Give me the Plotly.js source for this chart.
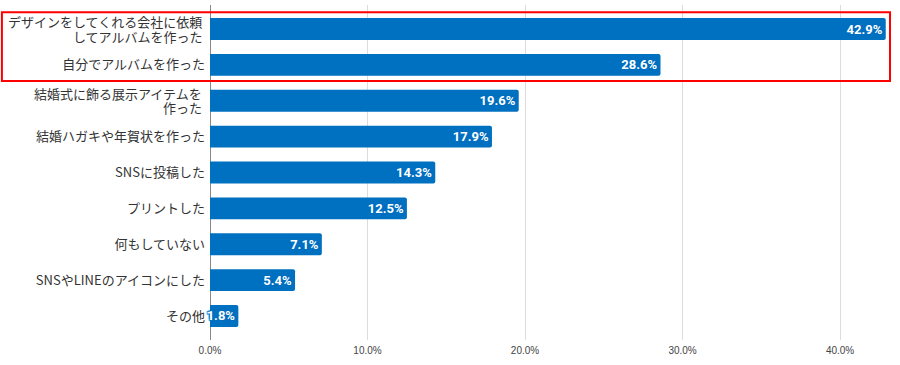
<!DOCTYPE html>
<html><head><meta charset="utf-8">
<script src="https://cdn.plot.ly/plotly-3.0.1.min.js"></script>
<style>html,body{margin:0;padding:0;background:#fff}#chart{width:900px;height:365px}</style>
</head><body><div id="chart"></div>
<script>
// Each category is a list of label lines (multi-line labels are drawn line by line)
const categoryLines = [
  ["デザインをしてくれる会社に依頼", "してアルバムを作った"],
  ["自分でアルバムを作った"],
  ["結婚式に飾る展示アイテムを", "作った"],
  ["結婚ハガキや年賀状を作った"],
  ["SNSに投稿した"],
  ["プリントした"],
  ["何もしていない"],
  ["SNSやLINEのアイコンにした"],
  ["その他"]
];
const categories = categoryLines.map(l => l.join(''));
const values = [42.9, 28.6, 19.6, 17.9, 14.3, 12.5, 7.1, 5.4, 1.8];
const xTicks = [0, 10, 20, 30, 40];
const xTickLabels = ["0.0%", "10.0%", "20.0%", "30.0%", "40.0%"];

const labelFont = {family: '"Noto Sans CJK JP", sans-serif', size: 13, color: '#333'};

const trace = {
  type: 'bar', orientation: 'h',
  x: values, y: categories,
  marker: {color: '#0070C0', cornerradius: 2},
  text: values.map(v => v.toFixed(1) + '%'),
  textposition: 'inside', insidetextanchor: 'end', constraintext: 'none',
  textfont: {family: 'Roboto, Arial, sans-serif', size: 13, color: '#fff', weight: 'bold',
             shadow: '1px 1px 1px #0070C0, -1px -1px 1px #0070C0, 1px -1px 1px #0070C0, -1px 1px 1px #0070C0'},
  hoverinfo: 'none', cliponaxis: false
};

// single-line labels as tick text; multi-line labels as per-line annotations
const tickText = categoryLines.map(l => l.length === 1 ? l[0] : '');
const annotations = [];
categoryLines.forEach((lines, i) => {
  if (lines.length > 1) {
    lines.forEach((t, k) => {
      annotations.push({
        xref: 'paper', yref: 'y', x: -0.0103, y: i + (k - (lines.length - 1) / 2) * 0.4,
        text: t, showarrow: false, xanchor: 'right', yanchor: 'middle',
        font: labelFont, borderpad: 0
      });
    });
  }
});

const layout = {
  width: 900, height: 365,
  margin: {l: 210, r: 10, t: 5, b: 25},
  paper_bgcolor: '#fff', plot_bgcolor: '#fff',
  bargap: 0.39,
  showlegend: false,
  font: {family: '"Noto Sans CJK JP", sans-serif', color: '#333'},
  xaxis: {
    range: [0, 43.17], tickvals: xTicks, ticktext: xTickLabels,
    showgrid: true, gridcolor: '#dcdcdc', gridwidth: 1,
    zeroline: true, zerolinecolor: '#888', zerolinewidth: 1,
    showline: false, ticks: '', ticklabelstandoff: 3,
    tickfont: {family: '"Liberation Sans Narrow", Arial, sans-serif', size: 10, color: '#444'},
    fixedrange: true
  },
  yaxis: {
    type: 'category', range: [8.67, -0.67],
    tickvals: categories, ticktext: tickText,
    showgrid: false, zeroline: false, showline: false, ticks: '',
    ticklabelstandoff: 4,
    tickfont: labelFont,
    fixedrange: true
  },
  annotations: annotations,
  shapes: [{
    type: 'rect', xref: 'paper', yref: 'y',
    x0: -0.306, x1: 1.0, y0: -0.47, y1: 1.45,
    line: {color: '#ff0000', width: 2}, fillcolor: 'rgba(0,0,0,0)'
  }]
};
Plotly.newPlot('chart', [trace], layout, {displayModeBar: false, staticPlot: true});
</script>
</body></html>
